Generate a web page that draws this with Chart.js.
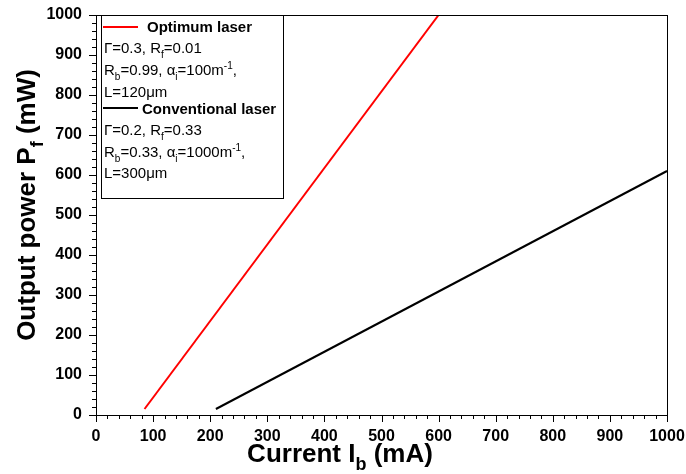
<!DOCTYPE html>
<html>
<head>
<meta charset="utf-8">
<script src="https://cdn.jsdelivr.net/npm/chart.js@4/dist/chart.umd.min.js"></script>
<style>
  html, body { margin: 0; padding: 0; background: #fff; }
  #wrap { width: 686px; height: 474px; position: relative; }
</style>
</head>
<body>
<div id="wrap"><canvas id="chart"></canvas></div>
<script>
// Current (mA) vs output power (mW)
const optimumCurrent = [85, 600];
const optimumPower = [15, 1000];
const conventionalCurrent = [210, 1000];
const conventionalPower = [15, 610];

const xTicks = [0, 100, 200, 300, 400, 500, 600, 700, 800, 900, 1000];
const yTicks = [0, 100, 200, 300, 400, 500, 600, 700, 800, 900, 1000];

const FONT = '"Liberation Sans", Arial, sans-serif';

const toPoints = (xs, ys) => xs.map((x, i) => ({ x: x, y: ys[i] }));

// draw a run of text with sub/superscripts: parts = [[text, 'n'|'sub'|'sup'], ...]
function drawRich(ctx, parts, x, y, size, weight) {
  let cx = x;
  parts.forEach(([txt, kind]) => {
    const s = kind === 'n' ? size : Math.round(size * 0.68);
    const dy = kind === 'sub' ? size * 0.3 : kind === 'sup' ? -size * 0.4 : 0;
    ctx.font = `${weight} ${s}px ${FONT}`;
    ctx.fillText(txt, cx, y + dy);
    cx += ctx.measureText(txt).width;
  });
  return cx - x;
}

function richWidth(ctx, parts, size, weight) {
  let w = 0;
  parts.forEach(([txt, kind]) => {
    const s = kind === 'n' ? size : Math.round(size * 0.68);
    ctx.font = `${weight} ${s}px ${FONT}`;
    w += ctx.measureText(txt).width;
  });
  return w;
}

// minor/major ticks, frame, axis titles and the text legend box
const decorations = {
  id: 'decorations',
  afterDraw(chart) {
    const ctx = chart.ctx;
    const xs = chart.scales.x;
    const ys = chart.scales.y;
    const a = chart.chartArea;
    ctx.save();
    ctx.strokeStyle = '#000';
    ctx.lineWidth = 1;

    // frame
    ctx.strokeRect(a.left + 0.5, a.top + 0.5, a.right - a.left, a.bottom - a.top);

    // ticks every 20, major every 100
    ctx.beginPath();
    for (let v = 0; v <= 1000; v += 20) {
      const major = v % 100 === 0;
      const px = Math.round(xs.getPixelForValue(v)) + 0.5;
      ctx.moveTo(px, a.bottom);
      ctx.lineTo(px, a.bottom + (major ? 7 : 4));
      const py = Math.round(ys.getPixelForValue(v)) + 0.5;
      ctx.moveTo(a.left, py);
      ctx.lineTo(a.left - (major ? 7 : 4), py);
    }
    ctx.stroke();

    // axis titles
    ctx.fillStyle = '#000';
    ctx.textBaseline = 'alphabetic';
    const xTitle = [['Current I', 'n'], ['b', 'sub'], [' (mA)', 'n']];
    const xw = richWidth(ctx, xTitle, 26, 'bold');
    drawRich(ctx, xTitle, 340 - xw / 2, 462, 26, 'bold');

    const yTitle = [['Output power P', 'n'], ['f', 'sub'], [' (mW)', 'n']];
    const yw = richWidth(ctx, yTitle, 26, 'bold');
    ctx.save();
    ctx.translate(35, 205);
    ctx.rotate(-Math.PI / 2);
    drawRich(ctx, yTitle, -yw / 2, 0, 26, 'bold');
    ctx.restore();

    // legend box
    const lx = 101, ly = 15, lw = 182, lh = 183;
    ctx.fillStyle = '#fff';
    ctx.fillRect(lx, ly, lw, lh);
    ctx.strokeRect(lx + 0.5, ly + 0.5, lw, lh);

    ctx.lineWidth = 2;
    ctx.strokeStyle = '#ff0000';
    ctx.beginPath(); ctx.moveTo(103, 27); ctx.lineTo(138, 27); ctx.stroke();
    ctx.strokeStyle = '#000';
    ctx.beginPath(); ctx.moveTo(103, 108); ctx.lineTo(138, 108); ctx.stroke();

    ctx.fillStyle = '#000';
    const size = 15;
    drawRich(ctx, [['Optimum laser', 'n']], 147, 32, size, 'bold');
    drawRich(ctx, [['Γ=0.3, R', 'n'], ['f', 'sub'], ['=0.01', 'n']], 104, 53, size, 'normal');
    drawRich(ctx, [['R', 'n'], ['b', 'sub'], ['=0.99, α', 'n'], ['i', 'sub'], ['=100m', 'n'], ['-1', 'sup'], [',', 'n']], 104, 75, size, 'normal');
    drawRich(ctx, [['L=120μm', 'n']], 104, 97, size, 'normal');
    drawRich(ctx, [['Conventional laser', 'n']], 142, 114, size, 'bold');
    drawRich(ctx, [['Γ=0.2, R', 'n'], ['f', 'sub'], ['=0.33', 'n']], 104, 135, size, 'normal');
    drawRich(ctx, [['R', 'n'], ['b', 'sub'], ['=0.33, α', 'n'], ['i', 'sub'], ['=1000m', 'n'], ['-1', 'sup'], [',', 'n']], 104, 157, size, 'normal');
    drawRich(ctx, [['L=300μm', 'n']], 104, 178, size, 'normal');
    ctx.restore();
  }
};

const tickFont = { family: FONT, size: 16, weight: 'bold' };

new Chart(document.getElementById('chart'), {
  type: 'scatter',
  data: {
    datasets: [
      {
        label: 'Optimum laser',
        data: toPoints(optimumCurrent, optimumPower),
        showLine: true,
        borderColor: '#ff0000',
        borderWidth: 2,
        pointRadius: 0
      },
      {
        label: 'Conventional laser',
        data: toPoints(conventionalCurrent, conventionalPower),
        showLine: true,
        borderColor: '#000000',
        borderWidth: 2,
        pointRadius: 0
      }
    ]
  },
  options: {
    responsive: true,
    maintainAspectRatio: false,
    animation: false,
    layout: { padding: { left: 0, right: 19, top: 15, bottom: 0 } },
    plugins: {
      legend: { display: false },
      tooltip: { enabled: false }
    },
    scales: {
      x: {
        type: 'linear',
        min: 0,
        max: 1000,
        afterBuildTicks: (s) => { s.ticks = xTicks.map(v => ({ value: v })); },
        afterFit: (s) => { s.height = 59; s.paddingLeft = 0; s.paddingRight = 0; },
        grid: { display: false, drawTicks: false },
        border: { display: false },
        ticks: { color: '#000', font: tickFont, padding: 12, maxRotation: 0, callback: (v) => String(v) }
      },
      y: {
        type: 'linear',
        min: 0,
        max: 1000,
        afterBuildTicks: (s) => { s.ticks = yTicks.map(v => ({ value: v })); },
        afterFit: (s) => { s.width = 96; s.paddingTop = 0; s.paddingBottom = 0; },
        grid: { display: false, drawTicks: false },
        border: { display: false },
        ticks: { color: '#000', font: tickFont, padding: 14, callback: (v) => String(v) }
      }
    }
  },
  plugins: [decorations]
});
</script>
</body>
</html>
